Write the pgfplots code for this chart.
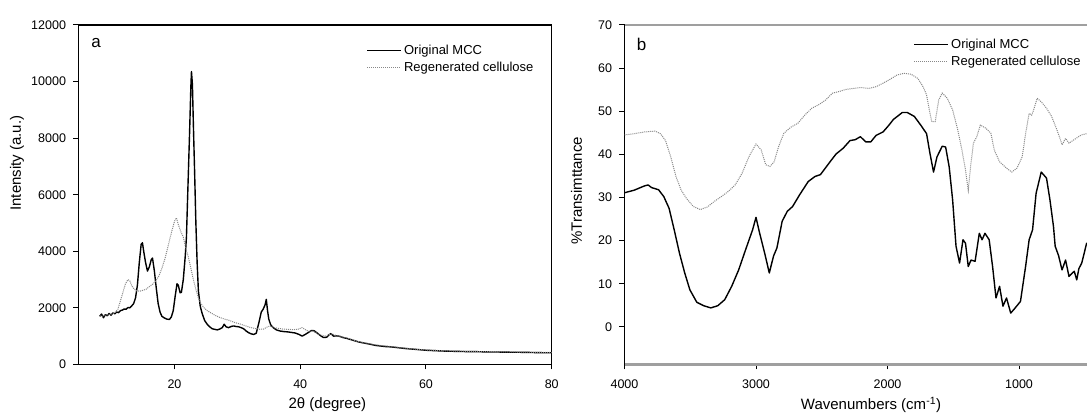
\documentclass[border=0pt]{standalone}
\usepackage{pgfplots}
\pgfplotsset{compat=1.18}
\usepackage{fontspec}
\setmainfont{Liberation Sans}
\definecolor{regen}{RGB}{135,135,135}
\pgfplotsset{
  common/.style={
    scale only axis, anchor=south west,
    tick align=outside, tick pos=left,
    major tick length=5pt,
    tick style={black, line width=1pt},
    scaled ticks=false,
    /pgf/number format/assume math mode=true,
    /pgf/number format/1000 sep={},
    tick label style={font=\fontsize{12.5}{14}\selectfont},
    xticklabel style={yshift=-7pt},
    yticklabel style={xshift=-4pt},
    label style={font=\fontsize{15}{17}\selectfont},
    legend style={draw=none, fill=none, font=\fontsize{13}{15}\selectfont, anchor=north west, inner sep=0pt, row sep=2pt, cells={anchor=west}},
    legend cell align=left,
    legend image code/.code={\draw[#1] (0pt,0pt) -- (34pt,0pt);},
  },
  mcc/.style={black, line width=1.4pt, line join=round},
  reg/.style={regen, line width=1pt, dash pattern=on 1pt off 1pt},
}
\begin{document}
\begin{tikzpicture}[x=1pt,y=1pt]
\begin{axis}[common,
  at={(78.5pt,50.6pt)}, width=473.2pt, height=339.4pt,
  xmin=4.73, xmax=80, ymin=0, ymax=12000,
  xtick={20,40,60,80}, ytick={0,2000,4000,6000,8000,10000,12000},
  axis line style={black, line width=1.3pt},
  xlabel={2θ (degree)}, ylabel={Intensity (a.u.)},
  xlabel style={at={(axis description cs:0.526,-0.119)}, anchor=center},
  ylabel style={at={(axis description cs:-0.130,0.593)}, anchor=center},
  legend style={at={(rel axis cs:0.6086,0.948)}},
]
\addplot[mcc] coordinates {(8.1,1700)(8.4,1780)(8.7,1650)(9.0,1760)(9.3,1720)(9.6,1800)(9.9,1740)(10.2,1820)(10.5,1790)(10.8,1850)(11.1,1830)(11.4,1900)(11.7,1920)(12.0,1960)(12.3,1950)(12.6,2010)(12.9,2000)(13.2,2070)(13.5,2150)(13.8,2350)(14.1,2800)(14.4,3600)(14.7,4250)(14.9,4300)(15.1,4000)(15.4,3600)(15.7,3300)(16.0,3450)(16.3,3700)(16.5,3760)(16.8,3300)(17.1,2700)(17.4,2150)(17.7,1850)(18.0,1700)(18.4,1640)(18.8,1600)(19.2,1590)(19.5,1680)(19.8,1900)(20.1,2400)(20.4,2850)(20.6,2800)(20.9,2530)(21.1,2550)(21.4,3000)(21.7,3800)(21.9,4500)(22.1,6000)(22.4,8200)(22.6,9800)(22.7,10350)(22.85,9900)(23.0,8500)(23.2,6800)(23.4,5000)(23.6,3600)(23.8,2600)(24.1,2050)(24.4,1800)(24.8,1550)(25.2,1420)(25.6,1330)(26.0,1260)(26.4,1240)(26.8,1220)(27.2,1250)(27.6,1300)(27.9,1420)(28.2,1330)(28.6,1300)(29.0,1340)(29.4,1360)(29.8,1340)(30.2,1330)(30.6,1300)(31.0,1260)(31.4,1180)(31.8,1120)(32.2,1080)(32.6,1060)(33.0,1100)(33.4,1450)(33.8,1850)(34.1,1950)(34.4,2100)(34.6,2300)(34.8,1900)(35.0,1600)(35.3,1400)(35.7,1300)(36.2,1220)(36.8,1180)(37.4,1160)(38.0,1150)(38.6,1130)(39.2,1110)(39.8,1060)(40.3,1000)(40.8,1060)(41.3,1130)(41.8,1200)(42.2,1190)(42.7,1110)(43.2,1020)(43.7,950)(44.2,960)(44.6,1050)(44.9,1090)(45.3,1000)(45.8,1010)(46.3,990)(46.8,950)(47.4,920)(48.0,880)(48.6,840)(49.2,800)(49.8,770)(50.5,740)(51.2,710)(52.0,670)(52.8,650)(53.6,630)(54.4,620)(55.2,600)(56.0,580)(56.8,560)(57.6,545)(58.4,530)(59.2,515)(60.0,500)(61.0,490)(62.0,480)(63.0,470)(64.0,465)(65.0,460)(66.0,455)(67.0,450)(68.0,450)(69.0,445)(70.0,440)(71.0,440)(72.0,435)(73.0,432)(74.0,430)(75.0,428)(76.0,425)(77.0,420)(78.0,415)(79.0,412)(80.0,410)};
\addlegendentry{Original MCC}
\addplot[reg] coordinates {(8.1,1720)(8.6,1700)(9.0,1740)(9.5,1760)(10.0,1780)(10.5,1830)(11.0,1950)(11.4,2250)(11.8,2550)(12.2,2850)(12.6,3000)(12.9,2950)(13.2,2780)(13.6,2660)(14.0,2600)(14.5,2590)(15.0,2620)(15.5,2660)(16.0,2750)(16.5,2830)(17.0,2950)(17.5,3120)(18.0,3400)(18.5,3750)(19.0,4200)(19.5,4650)(20.0,5060)(20.3,5180)(20.6,4950)(21.0,4700)(21.4,4500)(21.8,4100)(22.2,3800)(22.6,3400)(23.0,3000)(23.4,2650)(23.8,2350)(24.2,2150)(24.7,2000)(25.2,1900)(25.8,1820)(26.5,1730)(27.2,1660)(28.0,1600)(28.8,1550)(29.6,1480)(30.4,1430)(31.2,1370)(32.0,1310)(32.8,1270)(33.6,1240)(34.2,1250)(34.8,1330)(35.2,1360)(35.8,1300)(36.4,1280)(37.2,1250)(38.0,1240)(38.8,1230)(39.6,1240)(40.3,1300)(40.8,1230)(41.3,1170)(42.0,1180)(43.0,1050)(44.0,1000)(45.0,1080)(46.0,1000)(47.5,930)(49.0,820)(50.5,750)(52.0,690)(54.0,640)(56.0,590)(58.0,545)(60.0,510)(63.0,480)(66.0,465)(70.0,450)(74.0,440)(78.0,425)(80.0,420)};
\addlegendentry{Regenerated cellulose}
\node[anchor=base west, font=\fontsize{17}{19}\selectfont] at (rel axis cs:0.02,0.935) {a};
\end{axis}
\begin{axis}[common,
  at={(624.5pt,50.6pt)}, width=462.5pt, height=339.4pt,
  x dir=reverse, xmin=483, xmax=4000, ymin=-8.7, ymax=70,
  xtick={1000,2000,3000,4000}, ytick={0,10,20,30,40,50,60,70},
  axis x line*=box, axis y line*=left,
  x axis line style={draw=gray!75, line width=2.5pt},
  y axis line style={black, line width=1.3pt},
  xlabel={Wavenumbers (cm\textsuperscript{-1})}, ylabel={\%Transimttance},
  xlabel style={at={(axis description cs:0.533,-0.119)}, anchor=center},
  ylabel style={at={(axis description cs:-0.1038,0.511)}, anchor=center},
  legend style={at={(rel axis cs:0.625,0.965)}},
]
\addplot[mcc] coordinates {(4000,31.1)(3926,31.7)(3847,32.7)(3820,32.9)(3794,32.3)(3741,31.8)(3701,30.2)(3661,27.5)(3622,22.5)(3582,17.1)(3542,12.5)(3503,8.6)(3450,5.7)(3397,4.9)(3344,4.4)(3291,4.9)(3238,6.3)(3185,9.4)(3132,13.2)(3079,17.9)(3026,22.5)(3000,25.4)(2973,21.8)(2934,17.1)(2899,12.5)(2867,16.4)(2841,18.3)(2801,24.5)(2762,26.8)(2722,27.9)(2669,30.6)(2603,33.7)(2550,34.9)(2510,35.3)(2444,38.0)(2391,40.1)(2338,41.4)(2285,43.2)(2246,43.4)(2206,44.1)(2166,42.9)(2127,42.9)(2087,44.4)(2034,45.2)(1994,46.6)(1955,48.1)(1888,49.7)(1849,49.7)(1796,48.8)(1743,46.6)(1703,44.8)(1677,40.2)(1650,35.9)(1624,39.4)(1584,41.9)(1558,41.7)(1531,37.1)(1505,29.5)(1479,18.7)(1452,14.8)(1426,20.2)(1407,19.4)(1386,14.0)(1365,15.5)(1334,15.2)(1302,21.7)(1281,20.2)(1259,21.7)(1227,20.2)(1201,14.0)(1175,6.7)(1148,9.4)(1122,4.8)(1095,6.7)(1063,3.2)(1029,4.4)(989,5.9)(950,14.0)(923,20.2)(897,22.5)(870,31.0)(831,35.9)(791,34.5)(765,29.5)(738,23.3)(725,18.7)(699,16.5)(673,13.2)(646,15.5)(620,11.7)(580,12.9)(561,10.9)(545,13.5)(523,14.8)(485,19.5)};
\addlegendentry{Original MCC}
\addplot[reg] coordinates {(4000,44.5)(3926,44.8)(3847,45.2)(3767,45.4)(3727,44.8)(3688,43.2)(3648,39.4)(3608,34.8)(3569,31.7)(3529,29.8)(3476,27.9)(3423,27.2)(3370,27.8)(3317,29.1)(3264,30.2)(3211,31.4)(3159,32.9)(3106,35.6)(3053,39.5)(3000,42.4)(2960,41.0)(2926,37.6)(2894,37.2)(2862,38.3)(2828,41.8)(2788,44.9)(2735,46.3)(2682,47.2)(2629,49.1)(2576,50.7)(2524,51.5)(2471,52.6)(2418,54.2)(2365,54.6)(2312,55.1)(2259,55.3)(2206,55.5)(2140,55.3)(2087,55.7)(2034,56.5)(1981,57.4)(1928,58.4)(1875,58.8)(1822,58.6)(1769,57.6)(1730,55.7)(1703,53.8)(1682,50.3)(1664,47.6)(1637,47.6)(1611,52.6)(1584,54.2)(1545,53.0)(1505,50.3)(1466,45.7)(1434,41.0)(1407,36.4)(1386,31.7)(1368,37.2)(1347,42.6)(1321,44.1)(1294,46.8)(1254,46.1)(1214,44.9)(1188,41.0)(1148,38.3)(1095,36.8)(1055,35.9)(1016,36.8)(976,39.4)(950,44.8)(923,49.5)(904,49.1)(889,50.3)(862,53.0)(831,52.2)(791,50.7)(752,48.8)(712,45.7)(685,43.4)(673,42.2)(646,43.7)(620,42.6)(567,43.7)(527,44.5)(485,44.8)};
\addlegendentry{Regenerated cellulose}
\node[anchor=base west, font=\fontsize{17}{19}\selectfont] at (rel axis cs:0.019,0.925) {b};
\end{axis}
\pgfresetboundingbox
\path (0pt,0pt) rectangle (1087pt,415pt);
\end{tikzpicture}
\end{document}
